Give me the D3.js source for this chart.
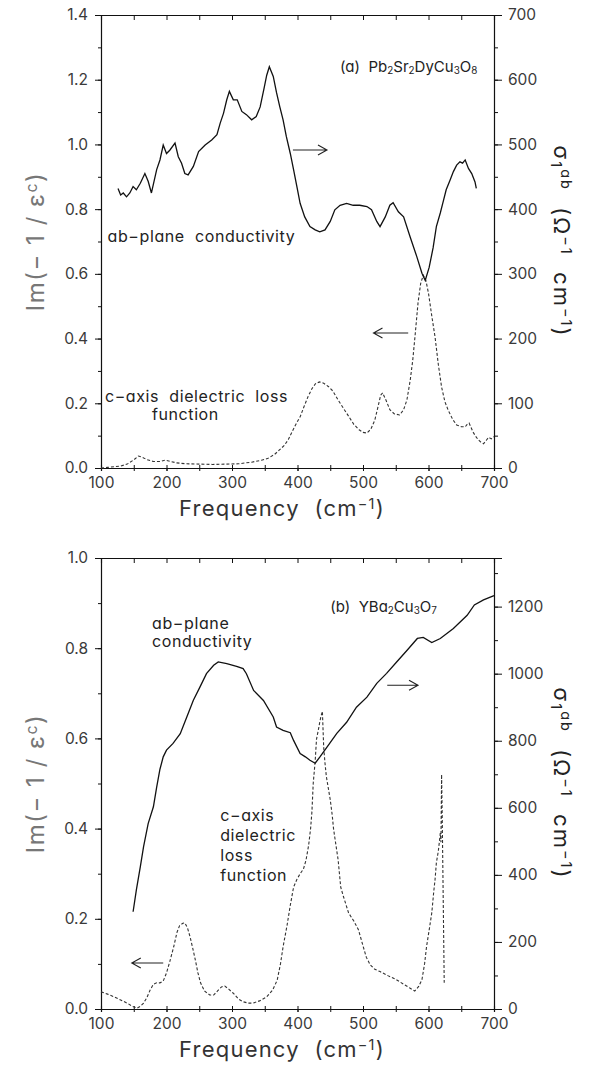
<!DOCTYPE html>
<html>
<head>
<meta charset="utf-8">
<script src="https://cdn.jsdelivr.net/npm/d3@7"></script>
<style>
  body { margin: 0; background: #fff; }
  svg { display: block; }
  text { font-family: Inter, "Liberation Sans", sans-serif; font-feature-settings: "cv11" 1; white-space: pre; }
</style>
</head>
<body>
<svg id="chart" width="589" height="1066"></svg>
<script>
// ---------- data ----------
// Frequency axis (cm^-1)
const freqDomain = [100, 700];
const freqMajor = [100, 200, 300, 400, 500, 600, 700];

// Panel (a) Pb2Sr2DyCu3O8
const lossTicksA = [0.0, 0.2, 0.4, 0.6, 0.8, 1.0, 1.2, 1.4];
const sigmaTicksA = [0, 100, 200, 300, 400, 500, 600, 700];
// ab-plane conductivity sigma1 (ohm^-1 cm^-1) vs frequency
const sigmaA = [
  [126,432],[130,422],[134,425],[139,419],[144,425],[149,435],[154,430],[160,440],
  [167,455],[172,443],[177,425],[185,461],[190,476],[195,499],[200,486],[205,491],
  [213,502],[218,481],[223,471],[228,455],[233,453],[241,466],[249,489],[259,499],
  [269,507],[277,515],[282,533],[287,548],[292,569],[296,582],[302,569],[308,569],
  [315,551],[322,546],[330,538],[337,543],[343,558],[349,587],[353,607],[357,620],
  [363,605],[368,580],[373,558],[378,538],[383,512],[389,486],[394,461],[399,435],
  [404,409],[411,388],[419,373],[427,368],[434,365],[442,368],[450,381],[457,399],
  [465,406],[475,409],[485,406],[495,406],[506,404],[513,399],[521,381],[526,373],
  [534,388],[541,406],[546,410],[554,396],[562,388],[572,357],[582,327],[590,301],
  [595,290],[601,310],[607,340],[612,373],[618,394],[623,414],[627,430],[633,445],
  [638,458],[643,468],[648,473],[652,471],[656,476],[661,463],[666,455],[671,442],
  [673,432]
];
// c-axis dielectric loss function Im(-1/eps_c) vs frequency
const lossA = [
  [100,0.0],[110,0.002],[120,0.004],[130,0.006],[140,0.012],[150,0.025],[157,0.037],
  [163,0.033],[170,0.026],[180,0.02],[190,0.02],[198,0.024],[205,0.021],[215,0.016],
  [230,0.013],[250,0.012],[270,0.011],[290,0.012],[310,0.013],[330,0.018],[345,0.024],
  [355,0.03],[365,0.042],[372,0.055],[380,0.07],[386,0.088],[392,0.113],[398,0.137],
  [404,0.158],[410,0.19],[416,0.22],[422,0.245],[428,0.262],[434,0.266],[440,0.262],
  [447,0.252],[454,0.238],[462,0.21],[470,0.185],[478,0.16],[486,0.135],[494,0.118],
  [500,0.11],[506,0.108],[512,0.12],[518,0.148],[523,0.19],[527,0.225],[530,0.232],
  [535,0.21],[541,0.18],[548,0.167],[556,0.164],[562,0.18],[567,0.21],[572,0.27],
  [576,0.334],[580,0.42],[584,0.51],[588,0.57],[592,0.596],[596,0.58],[600,0.54],
  [605,0.47],[610,0.405],[615,0.32],[620,0.25],[625,0.205],[630,0.179],[637,0.15],
  [643,0.133],[650,0.128],[656,0.127],[659,0.135],[662,0.139],[665,0.125],[668,0.111],
  [672,0.098],[676,0.087],[680,0.08],[684,0.075],[688,0.085],[692,0.095],[696,0.09],
  [700,0.097]
];

// Panel (b) YBa2Cu3O7
const lossTicksB = [0.0, 0.2, 0.4, 0.6, 0.8, 1.0];
const sigmaTicksB = [0, 200, 400, 600, 800, 1000, 1200];
const sigmaMaxB = 1345;
const sigmaB = [
  [149,290],[154,355],[160,424],[165,484],[172,553],[180,603],[185,662],[190,715],
  [195,752],[200,772],[210,792],[221,821],[231,871],[241,921],[251,960],[261,1000],
  [272,1025],[279,1035],[292,1030],[307,1022],[317,1015],[322,1000],[333,950],
  [348,920],[363,871],[368,841],[378,831],[389,824],[394,801],[404,762],[412,752],
  [419,742],[427,733],[434,751],[445,781],[460,822],[475,855],[490,900],[506,930],
  [521,971],[536,1001],[551,1034],[567,1069],[583,1105],[592,1108],[605,1093],
  [618,1105],[638,1135],[659,1174],[670,1205],[684,1220],[700,1233]
];
const lossB = [
  [100,0.038],[110,0.033],[120,0.027],[130,0.02],[140,0.013],[148,0.006],[155,0.002],
  [160,0.006],[165,0.013],[170,0.025],[175,0.042],[180,0.055],[185,0.058],[190,0.058],
  [195,0.062],[200,0.08],[205,0.105],[211,0.138],[216,0.17],[220,0.185],[225,0.19],
  [228,0.191],[232,0.18],[236,0.16],[240,0.135],[244,0.109],[248,0.08],[252,0.058],
  [258,0.04],[266,0.031],[272,0.031],[278,0.04],[284,0.049],[289,0.051],[295,0.044],
  [302,0.035],[310,0.022],[317,0.016],[325,0.013],[332,0.013],[342,0.018],[353,0.027],
  [362,0.042],[369,0.064],[374,0.1],[378,0.138],[384,0.185],[389,0.23],[394,0.27],
  [399,0.287],[404,0.30],[409,0.31],[413,0.33],[417,0.363],[420,0.40],[422,0.437],
  [424,0.5],[427,0.55],[429,0.598],[432,0.62],[434,0.636],[436,0.65],[438,0.66],
  [439,0.62],[440,0.58],[442,0.545],[444,0.516],[447,0.49],[450,0.464],[453,0.43],
  [455,0.40],[458,0.37],[462,0.331],[466,0.27],[470,0.25],[478,0.213],[486,0.195],
  [493,0.176],[500,0.14],[505,0.115],[511,0.098],[518,0.088],[526,0.083],[538,0.074],
  [551,0.065],[562,0.055],[572,0.046],[579,0.04],[585,0.05],[590,0.065],[594,0.1],
  [597,0.138],[601,0.175],[605,0.213],[608,0.26],[610,0.287],[612,0.324],[615,0.35],
  [617,0.376],[618,0.39],[619,0.37],[620,0.52],[621,0.42],[622,0.30],[623,0.18],
  [624,0.058]
];

// ---------- drawing ----------
const svg = d3.select("#chart");
const X0 = 101, X1 = 494;

function rich(sel, parts, size) {
  // parts: [text, mode] where mode is "", "sub" or "sup"
  parts.forEach(([t, mode]) => {
    const ts = sel.append("tspan").text(t);
    if (mode === "sub") ts.attr("font-size", size * 0.66).attr("baseline-shift", "-22%");
    else if (mode === "sup") ts.attr("font-size", size * 0.66).attr("baseline-shift", "45%");
  });
}

function arrow(g, x1, x2, y) {
  const dir = Math.sign(x2 - x1);
  g.append("path")
    .attr("d", `M${x1},${y}H${x2}M${x2 - dir * 9},${y - 5}L${x2},${y}L${x2 - dir * 9},${y + 5}`)
    .attr("fill", "none").attr("stroke", "#222").attr("stroke-width", 1.1);
}

function panel(cfg) {
  const g = svg.append("g");
  const x = d3.scaleLinear().domain(freqDomain).range([X0, X1]);
  const yL = d3.scaleLinear().domain([0, cfg.lossMax]).range([cfg.bottom, cfg.top]);
  const yR = d3.scaleLinear().domain([0, cfg.sigmaMax]).range([cfg.bottom, cfg.top]);

  const axStyle = a => {
    a.select(".domain").attr("stroke", "#111").attr("stroke-width", 1.1);
    a.selectAll(".tick line").attr("stroke", "#111").attr("stroke-width", 1);
    a.selectAll(".tick text").attr("fill", "#3a3a3a").attr("font-size", 15.5);
  };

  // x minor ticks (every 50), bottom & top
  const xMinor = d3.range(freqDomain[0], freqDomain[1] + 1, 50);
  g.append("g").attr("transform", `translate(0,${cfg.bottom})`)
    .call(d3.axisBottom(x).tickValues(xMinor).tickSize(3).tickFormat(""))
    .call(axStyle);
  g.append("g").attr("transform", `translate(0,${cfg.bottom})`)
    .call(d3.axisTop(x).tickValues(xMinor).tickSize(3).tickFormat(""))
    .call(axStyle);
  g.append("g").attr("transform", `translate(0,${cfg.bottom})`)
    .call(d3.axisBottom(x).tickValues(freqMajor).tickSize(3).tickPadding(6).tickFormat(d3.format("d")))
    .call(axStyle);
  g.append("g").attr("transform", `translate(0,${cfg.top})`)
    .call(d3.axisBottom(x).tickValues(xMinor).tickSize(5).tickFormat(""))
    .call(axStyle);

  // left axis
  const lMinor = d3.range(0, cfg.lossMax + 1e-9, 0.1);
  g.append("g").attr("transform", `translate(${X0},0)`)
    .call(d3.axisLeft(yL).tickValues(lMinor).tickSize(3).tickFormat(""))
    .call(axStyle);
  g.append("g").attr("transform", `translate(${X0},0)`)
    .call(d3.axisLeft(yL).tickValues(cfg.lossTicks).tickSize(6).tickPadding(7).tickFormat(d3.format(".1f")))
    .call(axStyle);

  // right axis
  const rMinor = d3.range(0, cfg.sigmaMax + 1e-9, cfg.sigmaMinor);
  g.append("g").attr("transform", `translate(${X1},0)`)
    .call(d3.axisRight(yR).tickValues(rMinor).tickSize(4).tickFormat(""))
    .call(axStyle);
  g.append("g").attr("transform", `translate(${X1},0)`)
    .call(d3.axisRight(yR).tickValues(cfg.sigmaTicks).tickSize(8).tickPadding(6).tickFormat(d3.format("d")))
    .call(axStyle);

  // curves
  g.append("path").datum(cfg.loss)
    .attr("d", d3.line().x(d => x(d[0])).y(d => yL(d[1])))
    .attr("fill", "none").attr("stroke", "#333").attr("stroke-width", 1.1)
    .attr("stroke-dasharray", "3,2");
  g.append("path").datum(cfg.sigma)
    .attr("d", d3.line().x(d => x(d[0])).y(d => yR(d[1])))
    .attr("fill", "none").attr("stroke", "#111").attr("stroke-width", 1.3);

  // axis titles
  const mid = (cfg.top + cfg.bottom) / 2;
  const lt = g.append("text").attr("transform", `translate(44,${mid}) rotate(-90)`)
    .attr("text-anchor", "middle").attr("font-size", 24).attr("letter-spacing", 1.5).attr("fill", "#777");
  rich(lt, [["Im(\u2212 1 / \u03b5", ""], ["c", "sup"], [")", ""]], 24);

  const rt = g.append("text").attr("transform", `translate(554,${mid}) rotate(90)`)
    .attr("text-anchor", "middle").attr("font-size", 22).attr("letter-spacing", 2).attr("fill", "#222");
  rich(rt, [["\u03c3", ""], ["1", "sub"], ["ab", "sup"], ["  (\u03a9", ""], ["\u22121", "sup"], ["  cm", ""], ["\u22121", "sup"], [")", ""]], 22);

  const xt = g.append("text").attr("x", 282).attr("y", cfg.bottom + 48)
    .attr("text-anchor", "middle").attr("font-size", 22).attr("letter-spacing", 1.2).attr("fill", "#333");
  rich(xt, [["Frequency  (cm", ""], ["\u22121", "sup"], [")", ""]], 22);

  // title and annotations
  const tt = g.append("text").attr("x", x(cfg.title.f)).attr("y", yL(cfg.title.v))
    .attr("font-size", 15).attr("fill", "#222");
  rich(tt, cfg.title.parts, 15);

  // multi-line annotation blocks: first line at (f, v), later lines offset by lineGap
  cfg.notes.forEach(n => {
    const t = g.append("text").attr("x", x(n.f)).attr("y", yL(n.v))
      .attr("text-anchor", n.anchor || "start")
      .attr("font-size", 16).attr("letter-spacing", 0.6)
      .attr("fill", "#222");
    n.lines.forEach((line, i) => {
      t.append("tspan")
        .attr("x", x(n.f) + (n.indent && i > 0 ? n.indent : 0))
        .attr("dy", i === 0 ? 0 : n.lineGap)
        .text(line);
    });
  });
  cfg.arrows.forEach(a => arrow(g, x(a.from), x(a.to), yL(a.v)));
}

panel({
  top: 15, bottom: 468, lossMax: 1.4, sigmaMax: 700, sigmaMinor: 50,
  lossTicks: lossTicksA, sigmaTicks: sigmaTicksA,
  loss: lossA, sigma: sigmaA,
  title: { f: 465, v: 1.224, parts: [["(a)  Pb", ""], ["2", "sub"], ["Sr", ""], ["2", "sub"], ["DyCu", ""], ["3", "sub"], ["O", ""], ["8", "sub"]] },
  notes: [
    { f: 110, v: 0.70, lines: ["ab\u2212plane  conductivity"] },
    { f: 106, v: 0.203, lineGap: 18, indent: 47, lines: ["c\u2212axis  dielectric  loss", "function"] }
  ],
  arrows: [ { from: 393, to: 445, v: 0.983 }, { from: 569, to: 516, v: 0.417 } ]
});

panel({
  top: 558, bottom: 1009, lossMax: 1.0, sigmaMax: sigmaMaxB, sigmaMinor: 100,
  lossTicks: lossTicksB, sigmaTicks: sigmaTicksB,
  loss: lossB, sigma: sigmaB,
  title: { f: 450, v: 0.88, parts: [["(b)  YBa", ""], ["2", "sub"], ["Cu", ""], ["3", "sub"], ["O", ""], ["7", "sub"]] },
  notes: [
    { f: 178, v: 0.842, lineGap: 18, lines: ["ab\u2212plane", "conductivity"] },
    { f: 282, v: 0.416, lineGap: 20, lines: ["c\u2212axis", "dielectric", "loss", "function"] }
  ],
  arrows: [ { from: 537, to: 584, v: 0.718 }, { from: 195, to: 147, v: 0.102 } ]
});
</script>
</body>
</html>
